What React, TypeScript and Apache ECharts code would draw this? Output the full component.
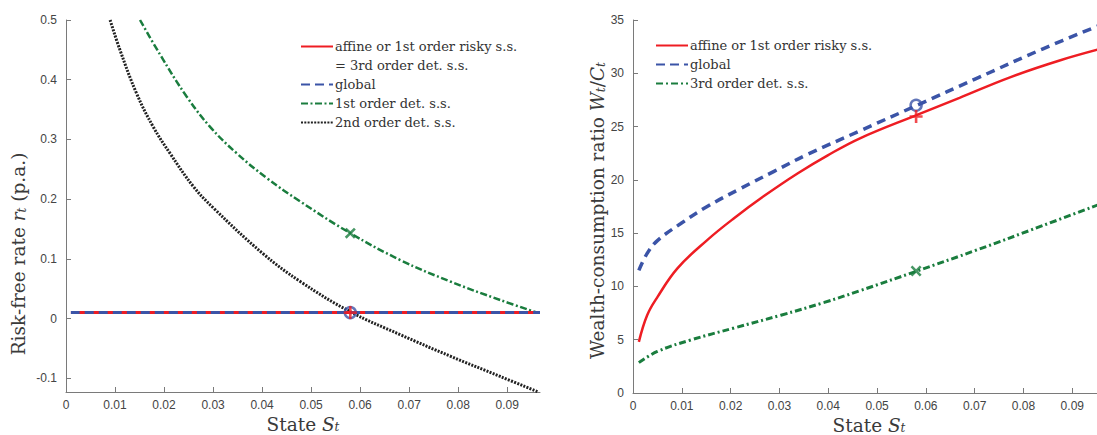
import React, { useEffect, useRef } from "react";
import * as echarts from "echarts";

// ---------- Left panel data (risk-free rate) ----------
const flatS = [0.001, 0.0967];
const flatR = [0.01, 0.01];
const green1S = [0.0151, 0.0192, 0.0246, 0.0294, 0.0348, 0.041, 0.0478, 0.058, 0.0682, 0.0784, 0.0886, 0.0962];
const green1R = [0.5, 0.442, 0.372, 0.321, 0.277, 0.235, 0.196, 0.143, 0.098, 0.062, 0.031, 0.0097];
const black2S = [0.009, 0.011, 0.0144, 0.0178, 0.0212, 0.026, 0.0301, 0.04, 0.0478, 0.058, 0.0682, 0.0784, 0.0886, 0.0964];
const black2R = [0.5, 0.45, 0.377, 0.321, 0.277, 0.221, 0.185, 0.11, 0.062, 0.0114, -0.027, -0.063, -0.097, -0.123];
const leftMarkS = 0.058;
const leftMarkRiskless = 0.01;
const leftMarkGreen = 0.143;

// ---------- Right panel data (wealth-consumption ratio) ----------
const redS = [0.0012, 0.0029, 0.005, 0.0091, 0.0152, 0.0207, 0.0269, 0.0337, 0.0399, 0.0465, 0.0582, 0.0669, 0.0771, 0.0874, 0.0967];
const redW = [4.8, 7.3, 9.0, 11.7, 14.35, 16.4, 18.5, 20.6, 22.3, 23.9, 26.1, 27.7, 29.6, 31.2, 32.4];
const blueS = [0.0012, 0.0029, 0.005, 0.0098, 0.0152, 0.0221, 0.0289, 0.0358, 0.0465, 0.0582, 0.0703, 0.084, 0.0967];
const blueW = [11.5, 13.1, 14.3, 15.9, 17.5, 19.2, 20.8, 22.4, 24.6, 27.0, 29.5, 32.3, 34.7];
const greenRS = [0.0012, 0.005, 0.0118, 0.0207, 0.0303, 0.0392, 0.0465, 0.0582, 0.0703, 0.0839, 0.0967];
const greenRW = [2.85, 3.9, 4.97, 6.1, 7.3, 8.5, 9.6, 11.45, 13.4, 15.7, 17.9];
const rightMarkS = 0.058;
const rightMarkRed = 25.95;
const rightMarkBlue = 27.0;
const rightMarkGreen = 11.45;

// ---------- Ticks ----------
const xTicks = [0, 0.01, 0.02, 0.03, 0.04, 0.05, 0.06, 0.07, 0.08, 0.09];
const leftYTicks = [-0.1, 0, 0.1, 0.2, 0.3, 0.4, 0.5];
const rightYTicks = [0, 5, 10, 15, 20, 25, 30, 35];

const NAME_AFFINE = "affine or 1st order risky s.s.";
const NAME_EQ3 = "= 3rd order det. s.s.";
const NAME_GLOBAL = "global";
const NAME_FIRST = "1st order det. s.s.";
const NAME_SECOND = "2nd order det. s.s.";
const NAME_THIRD = "3rd order det. s.s.";

const RED = "#ee1d23";
const BLUE = "#3b54a7";
const GREEN = "#1a7d3e";
const BLACK = "#222222";

const SERIF = "'DejaVu Serif', 'Liberation Serif', serif";
const SANS = "'Liberation Sans', Arial, sans-serif";

const zip = (a: number[], b: number[]) => a.map((v, i) => [v, b[i]]);

const PLUS = "path://M4,0 H6 V4 H10 V6 H6 V10 H4 V6 H0 V4 H4 Z";

const fmt = (v: number) => String(parseFloat(v.toFixed(2)));

const richName = {
  n: { fontFamily: SERIF, fontSize: 18.5, color: "#3a3a3a", lineHeight: 20 },
  i: { fontFamily: SERIF, fontSize: 18.5, color: "#3a3a3a", fontStyle: "italic", lineHeight: 20 },
  s: { fontFamily: SERIF, fontSize: 12, color: "#3a3a3a", fontStyle: "italic", lineHeight: 10, verticalAlign: "bottom" },
};

const richNameX = {
  n: { fontFamily: SERIF, fontSize: 18.5, color: "#3a3a3a", lineHeight: 18 },
  i: { fontFamily: SERIF, fontSize: 18.5, color: "#3a3a3a", fontStyle: "italic", lineHeight: 18 },
  s: { fontFamily: SERIF, fontSize: 12, color: "#3a3a3a", fontStyle: "italic", lineHeight: 9, verticalAlign: "bottom" },
};

const axisCommon = {
  axisLine: { show: true, onZero: false, lineStyle: { color: "#7a7a7a", width: 1 } },
  axisTick: { show: true, inside: true, length: 5, lineStyle: { color: "#7a7a7a" } },
  splitLine: { show: false },
};

export default function App() {
  const ref = useRef<HTMLDivElement>(null);
  useEffect(() => {
    if (!ref.current) return;
    const chart = echarts.init(ref.current, undefined, { renderer: "svg" });
    const lineSeries = (name: string, data: number[][], x: number, lineStyle: any, z = 2) => ({
      type: "line",
      name,
      xAxisIndex: x,
      yAxisIndex: x,
      data,
      showSymbol: false,
      symbol: "none",
      smooth: 0.4,
      lineStyle,
      itemStyle: { color: lineStyle.color },
      z,
    });
    const marker = (data: number[][], x: number, symbol: string, size: number, color: string, extra: any = {}) => ({
      type: "scatter",
      xAxisIndex: x,
      yAxisIndex: x,
      data,
      symbol,
      symbolSize: size,
      itemStyle: { color },
      z: 10,
      ...extra,
    });
    const legendCommon = {
      orient: "vertical",
      itemWidth: 32,
      itemHeight: 14,
      itemGap: 6,
      itemStyle: { opacity: 0 },
      textStyle: { fontFamily: SERIF, fontSize: 13, color: "#333", padding: [0, 0, 0, -3] },
    };
    const option: any = {
      animation: false,
      backgroundColor: "#ffffff",
      grid: [
        { left: 66, top: 20, width: 474, height: 372, outerBoundsMode: "none", containLabel: false },
        { left: 633, top: 20, width: 472, height: 373, outerBoundsMode: "none", containLabel: false },
      ],
      xAxis: [0, 1].map((g) => ({
        type: "value",
        gridIndex: g,
        min: 0,
        max: 0.0967,
        ...axisCommon,
        axisTick: { ...axisCommon.axisTick, customValues: xTicks },
        axisLabel: {
          customValues: xTicks,
          formatter: fmt,
          fontFamily: SANS,
          fontSize: 12,
          color: "#444",
          margin: 7,
        },
        name: "{n|State }{i|S}{s|t}",
        nameLocation: "middle",
        nameGap: 23,
        nameMoveOverlap: false,
        nameTextStyle: { rich: richNameX },
      })),
      yAxis: [
        {
          type: "value",
          gridIndex: 0,
          min: -0.123,
          max: 0.5,
          ...axisCommon,
          axisTick: { ...axisCommon.axisTick, customValues: leftYTicks },
          axisLabel: {
            customValues: leftYTicks,
            formatter: fmt,
            fontFamily: SANS,
            fontSize: 12,
            color: "#444",
            margin: 9,
          },
          name: "{n|Risk-free rate }{i|r}{s|t}{n| (p.a.)}",
          nameLocation: "middle",
          nameRotate: 90,
          nameGap: 38,
          nameMoveOverlap: false,
          nameTextStyle: { rich: richName, padding: [0, 96, 0, 0] },
        },
        {
          type: "value",
          gridIndex: 1,
          min: 0,
          max: 35,
          ...axisCommon,
          axisTick: { ...axisCommon.axisTick, customValues: rightYTicks },
          axisLabel: {
            customValues: rightYTicks,
            fontFamily: SANS,
            fontSize: 12,
            color: "#444",
            margin: 9,
          },
          name: "{n|Wealth-consumption ratio }{i|W}{s|t}{n|/}{i|C}{s|t}",
          nameLocation: "middle",
          nameRotate: 90,
          nameGap: 26,
          nameMoveOverlap: false,
          nameTextStyle: { rich: richName, padding: [0, 8, 0, 0] },
        },
      ],
      legend: [
        {
          ...legendCommon,
          left: 295,
          top: 35,
          data: [NAME_AFFINE, NAME_EQ3, NAME_GLOBAL, NAME_FIRST, NAME_SECOND],
        },
        {
          ...legendCommon,
          left: 650,
          top: 34,
          data: [NAME_AFFINE, NAME_GLOBAL, NAME_THIRD],
        },
      ],
      series: [
        // Left panel
        lineSeries(NAME_AFFINE, zip(flatS, flatR), 0, { color: RED, width: 3, type: "solid" }, 3),
        lineSeries(NAME_EQ3, [], 0, { color: "rgba(0,0,0,0)", width: 0.5, type: "solid" }),
        lineSeries(NAME_GLOBAL, zip(flatS, flatR), 0, { color: BLUE, width: 3, type: [9, 5] }, 4),
        lineSeries(NAME_FIRST, zip(green1S, green1R), 0, { color: GREEN, width: 2.5, type: [7, 2.5, 2, 2.5] }),
        lineSeries(NAME_SECOND, zip(black2S, black2R), 0, { color: BLACK, width: 3, type: [2, 1.3] }),
        marker([[leftMarkS, leftMarkRiskless]], 0, "circle", 11, BLUE, {
          itemStyle: { color: "rgba(0,0,0,0)", borderColor: BLUE, borderWidth: 2.5 },
        }),
        marker([[leftMarkS, leftMarkRiskless]], 0, PLUS, 13, RED, { z: 11 }),
        marker([[leftMarkS, leftMarkGreen]], 0, PLUS, 13, GREEN, { symbolRotate: 45 }),
        // Right panel
        lineSeries(NAME_AFFINE, zip(redS, redW), 1, { color: RED, width: 2.5, type: "solid" }, 3),
        lineSeries(NAME_GLOBAL, zip(blueS, blueW), 1, { color: BLUE, width: 3.5, type: [9, 6] }, 4),
        lineSeries(NAME_THIRD, zip(greenRS, greenRW), 1, { color: GREEN, width: 3, type: [7, 3, 2, 3] }),
        marker([[rightMarkS, rightMarkBlue]], 1, "circle", 11, BLUE, {
          itemStyle: { color: "rgba(0,0,0,0)", borderColor: BLUE, borderWidth: 2.5 },
        }),
        marker([[rightMarkS, rightMarkRed]], 1, PLUS, 13, RED),
        marker([[rightMarkS, rightMarkGreen]], 1, PLUS, 13, GREEN, { symbolRotate: 45 }),
      ],
    };
    chart.setOption(option);
    return () => chart.dispose();
  }, []);
  return (
    <div
      ref={ref}
      style={{ position: "fixed", left: 0, top: 0, width: 1097, height: 435, background: "#fff" }}
    />
  );
}
